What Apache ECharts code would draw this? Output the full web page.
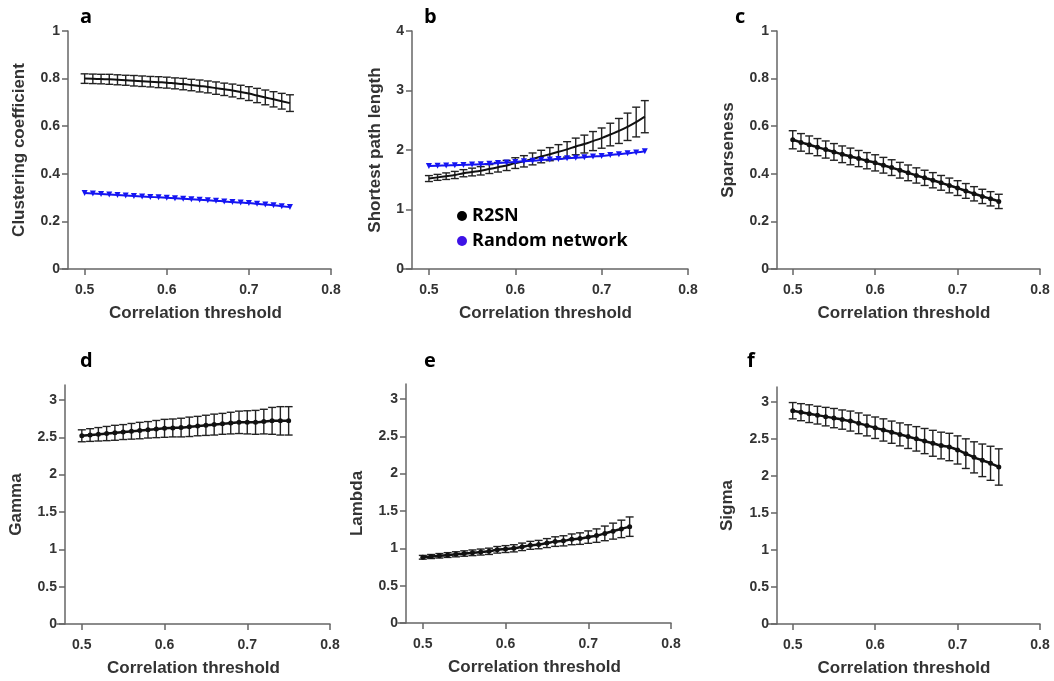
<!DOCTYPE html>
<html>
<head>
<meta charset="utf-8">
<script src="https://cdn.jsdelivr.net/npm/echarts@6/dist/echarts.min.js"></script>
<style>
  html, body { margin: 0; padding: 0; background: #fff; }
  #main { width: 1054px; height: 681px; }
</style>
</head>
<body>
<div id="main"></div>
<script>
// correlation thresholds (x)
var thresholds = [0.50, 0.51, 0.52, 0.53, 0.54, 0.55, 0.56, 0.57, 0.58, 0.59, 0.60, 0.61, 0.62,
  0.63, 0.64, 0.65, 0.66, 0.67, 0.68, 0.69, 0.70, 0.71, 0.72, 0.73, 0.74, 0.75]
var xTicks = [0.5, 0.6, 0.7, 0.8]

// a: clustering coefficient
var clusteringR2SN = [0.800, 0.799, 0.798, 0.797, 0.795, 0.793, 0.791, 0.789, 0.787, 0.785, 0.783, 0.780, 0.777,
  0.773, 0.769, 0.765, 0.760, 0.755, 0.750, 0.744, 0.737, 0.729, 0.721, 0.713, 0.705, 0.697]
var clusteringErr = [0.020, 0.020, 0.020, 0.021, 0.021, 0.021, 0.022, 0.022, 0.022, 0.023, 0.023, 0.023, 0.024,
  0.024, 0.025, 0.025, 0.026, 0.026, 0.027, 0.028, 0.029, 0.030, 0.031, 0.032, 0.033, 0.035]
var clusteringRandom = [0.319, 0.317, 0.315, 0.313, 0.311, 0.309, 0.307, 0.305, 0.303, 0.301, 0.299, 0.297, 0.295,
  0.293, 0.291, 0.289, 0.287, 0.284, 0.281, 0.279, 0.277, 0.274, 0.271, 0.268, 0.264, 0.260]

// b: shortest path length
var pathR2SN = [1.52, 1.54, 1.56, 1.58, 1.61, 1.63, 1.65, 1.68, 1.71, 1.74, 1.78, 1.81, 1.85,
  1.89, 1.93, 1.97, 2.01, 2.06, 2.10, 2.15, 2.20, 2.26, 2.32, 2.39, 2.47, 2.56]
var pathErr = [0.05, 0.05, 0.055, 0.06, 0.06, 0.065, 0.07, 0.075, 0.08, 0.085, 0.09, 0.095, 0.10,
  0.105, 0.11, 0.12, 0.13, 0.14, 0.15, 0.16, 0.17, 0.19, 0.21, 0.23, 0.25, 0.27]
var pathRandom = [1.73, 1.735, 1.74, 1.745, 1.75, 1.755, 1.76, 1.77, 1.78, 1.79, 1.80, 1.81, 1.82,
  1.83, 1.84, 1.85, 1.86, 1.87, 1.88, 1.89, 1.90, 1.915, 1.93, 1.945, 1.96, 1.98]

// c: sparseness
var sparseness = [0.543, 0.532, 0.522, 0.512, 0.502, 0.492, 0.482, 0.473, 0.464, 0.455, 0.446, 0.436, 0.426,
  0.415, 0.404, 0.393, 0.383, 0.373, 0.362, 0.351, 0.340, 0.328, 0.316, 0.305, 0.295, 0.284]
var sparsenessErr = [0.038, 0.037, 0.037, 0.036, 0.036, 0.035, 0.035, 0.035, 0.034, 0.034, 0.034, 0.033, 0.033,
  0.033, 0.033, 0.032, 0.032, 0.032, 0.031, 0.031, 0.031, 0.031, 0.030, 0.030, 0.030, 0.030]

// d: gamma
var gamma = [2.52, 2.53, 2.54, 2.55, 2.56, 2.57, 2.58, 2.59, 2.60, 2.61, 2.62, 2.625, 2.63,
  2.64, 2.65, 2.66, 2.67, 2.68, 2.69, 2.70, 2.70, 2.70, 2.71, 2.72, 2.72, 2.72]
var gammaErr = [0.08, 0.085, 0.09, 0.095, 0.10, 0.10, 0.105, 0.11, 0.11, 0.115, 0.12, 0.12, 0.125,
  0.13, 0.13, 0.135, 0.14, 0.14, 0.145, 0.15, 0.155, 0.16, 0.165, 0.18, 0.19, 0.19]

// e: lambda
var lambda = [0.88, 0.89, 0.90, 0.91, 0.92, 0.93, 0.94, 0.95, 0.96, 0.98, 0.99, 1.00, 1.02,
  1.04, 1.05, 1.07, 1.09, 1.10, 1.12, 1.13, 1.15, 1.17, 1.20, 1.23, 1.26, 1.29]
var lambdaErr = [0.025, 0.027, 0.03, 0.032, 0.034, 0.036, 0.038, 0.04, 0.042, 0.044, 0.046, 0.048, 0.05,
  0.053, 0.056, 0.06, 0.064, 0.068, 0.072, 0.077, 0.083, 0.09, 0.098, 0.107, 0.117, 0.13]

// f: sigma
var sigma = [2.88, 2.86, 2.84, 2.82, 2.80, 2.78, 2.76, 2.74, 2.71, 2.68, 2.65, 2.62, 2.59,
  2.56, 2.53, 2.50, 2.47, 2.44, 2.41, 2.39, 2.35, 2.30, 2.25, 2.21, 2.17, 2.12]
var sigmaErr = [0.11, 0.115, 0.12, 0.12, 0.125, 0.13, 0.13, 0.135, 0.14, 0.14, 0.145, 0.15, 0.15,
  0.155, 0.16, 0.165, 0.17, 0.175, 0.18, 0.185, 0.19, 0.20, 0.21, 0.22, 0.23, 0.245]

var ticks01 = [0, 0.2, 0.4, 0.6, 0.8, 1]
var ticks04 = [0, 1, 2, 3, 4]
var ticks03 = [0, 0.5, 1, 1.5, 2, 2.5, 3]

var textColor = '#333'
var axisColor = '#666'
var fontFamily = 'Liberation Sans, Arial, sans-serif'

// panel boxes, y axis shift, y range and titles
var panels = [
  { left: 60, top: 31, width: 271, height: 238, off: -8, max: 1, ticks: ticks01, name: 'Clustering coefficient', gap: 40 },
  { left: 403, top: 31, width: 285, height: 238, off: -9, max: 4, ticks: ticks04, name: 'Shortest path length', gap: 28 },
  { left: 768, top: 31, width: 272, height: 238, off: -9, max: 1, ticks: ticks01, name: 'Sparseness', gap: 40 },
  { left: 57, top: 385, width: 273, height: 239, off: -8, max: 3.2, ticks: ticks03, name: 'Gamma', gap: 40 },
  { left: 398, top: 384, width: 273, height: 239, off: -8, max: 3.2, ticks: ticks03, name: 'Lambda', gap: 40 },
  { left: 768, top: 387, width: 272, height: 237, off: -9, max: 3.2, ticks: ticks03, name: 'Sigma', gap: 41 }
]
var letters = [['a', 80, 19], ['b', 424, 19], ['c', 735, 19], ['d', 80, 363], ['e', 424, 363], ['f', 747, 363]]

function pairs(ys) {
  return thresholds.map(function (x, i) { return [x, ys[i]] })
}
function errData(ys, es) {
  return thresholds.map(function (x, i) { return [x, ys[i] - es[i], ys[i] + es[i]] })
}
function errorBars(idx, ys, es) {
  return {
    type: 'custom',
    xAxisIndex: idx,
    yAxisIndex: idx,
    silent: true,
    z: 3,
    data: errData(ys, es),
    renderItem: function (params, api) {
      var lo = api.coord([api.value(0), api.value(1)])
      var hi = api.coord([api.value(0), api.value(2)])
      var w = 4
      var st = { stroke: '#222', lineWidth: 1.4 }
      return {
        type: 'group',
        children: [
          { type: 'line', shape: { x1: lo[0], y1: lo[1], x2: hi[0], y2: hi[1] }, style: st },
          { type: 'line', shape: { x1: lo[0] - w, y1: lo[1], x2: lo[0] + w, y2: lo[1] }, style: st },
          { type: 'line', shape: { x1: hi[0] - w, y1: hi[1], x2: hi[0] + w, y2: hi[1] }, style: st }
        ]
      }
    }
  }
}
function blackLine(idx, ys, dots) {
  return {
    name: 'R2SN',
    type: 'line',
    xAxisIndex: idx,
    yAxisIndex: idx,
    data: pairs(ys),
    smooth: true,
    z: 4,
    symbol: dots ? 'circle' : 'none',
    symbolSize: 5,
    itemStyle: { color: '#111' },
    lineStyle: { color: '#111', width: dots ? 2.5 : 2 }
  }
}
function blueLine(idx, ys) {
  return {
    name: 'Random network',
    type: 'line',
    xAxisIndex: idx,
    yAxisIndex: idx,
    data: pairs(ys),
    smooth: true,
    z: 5,
    symbol: 'triangle',
    symbolRotate: 180,
    symbolSize: 6,
    itemStyle: { color: '#1515f2' },
    lineStyle: { color: '#1515f2', width: 2 }
  }
}

var grids = []
var xAxes = []
var yAxes = []
panels.forEach(function (p) {
  grids.push({ left: p.left, top: p.top, width: p.width, height: p.height, containLabel: false, outerBoundsMode: 'none' })
  xAxes.push({
    type: 'value',
    gridIndex: grids.length - 1,
    min: 0.47,
    max: 0.8,
    name: 'Correlation threshold',
    nameLocation: 'middle',
    nameGap: 36,
    nameTextStyle: { color: textColor, fontSize: 17, fontWeight: 'bold', fontFamily: fontFamily },
    splitLine: { show: false },
    axisLine: { onZero: false, lineStyle: { color: axisColor, width: 1.5 } },
    axisTick: { show: true, length: 6, customValues: xTicks, lineStyle: { color: axisColor, width: 1.5 } },
    axisLabel: { customValues: xTicks, margin: 14, color: textColor, fontSize: 14, fontWeight: 'bold', fontFamily: fontFamily }
  })
  yAxes.push({
    type: 'value',
    gridIndex: grids.length - 1,
    min: 0,
    max: p.max,
    offset: p.off,
    name: p.name,
    nameLocation: 'middle',
    nameGap: p.gap,
    nameTextStyle: { color: textColor, fontSize: 17, fontWeight: 'bold', fontFamily: fontFamily },
    splitLine: { show: false },
    axisLine: { show: true, lineStyle: { color: axisColor, width: 1.5 } },
    axisTick: { show: true, length: 6, customValues: p.ticks, lineStyle: { color: axisColor, width: 1.5 } },
    axisLabel: { customValues: p.ticks, margin: 8, color: textColor, fontSize: 14, fontWeight: 'bold', fontFamily: fontFamily }
  })
})

var series = [
  errorBars(0, clusteringR2SN, clusteringErr),
  blackLine(0, clusteringR2SN, false),
  blueLine(0, clusteringRandom),
  errorBars(1, pathR2SN, pathErr),
  blackLine(1, pathR2SN, false),
  blueLine(1, pathRandom),
  errorBars(2, sparseness, sparsenessErr),
  blackLine(2, sparseness, true),
  errorBars(3, gamma, gammaErr),
  blackLine(3, gamma, true),
  errorBars(4, lambda, lambdaErr),
  blackLine(4, lambda, true),
  errorBars(5, sigma, sigmaErr),
  blackLine(5, sigma, true)
]

var chart = echarts.init(document.getElementById('main'))
chart.setOption({
  animation: false,
  backgroundColor: '#fff',
  legend: {
    left: 452,
    top: 202,
    orient: 'vertical',
    icon: 'circle',
    itemWidth: 10,
    itemHeight: 10,
    itemGap: 7,
    selectedMode: false,
    textStyle: { color: '#000', fontSize: 18, fontWeight: 'bold', fontFamily: 'Open Sans, sans-serif' },
    data: [
      { name: 'R2SN', itemStyle: { color: '#000' } },
      { name: 'Random network', itemStyle: { color: '#3d12e6' } }
    ]
  },
  graphic: letters.map(function (l) {
    return {
      type: 'text',
      left: l[1],
      top: l[2] - 12,
      style: { text: l[0], fill: '#000', font: 'bold 20px "Open Sans", sans-serif' }
    }
  }),
  grid: grids,
  xAxis: xAxes,
  yAxis: yAxes,
  series: series
})
</script>
</body>
</html>
